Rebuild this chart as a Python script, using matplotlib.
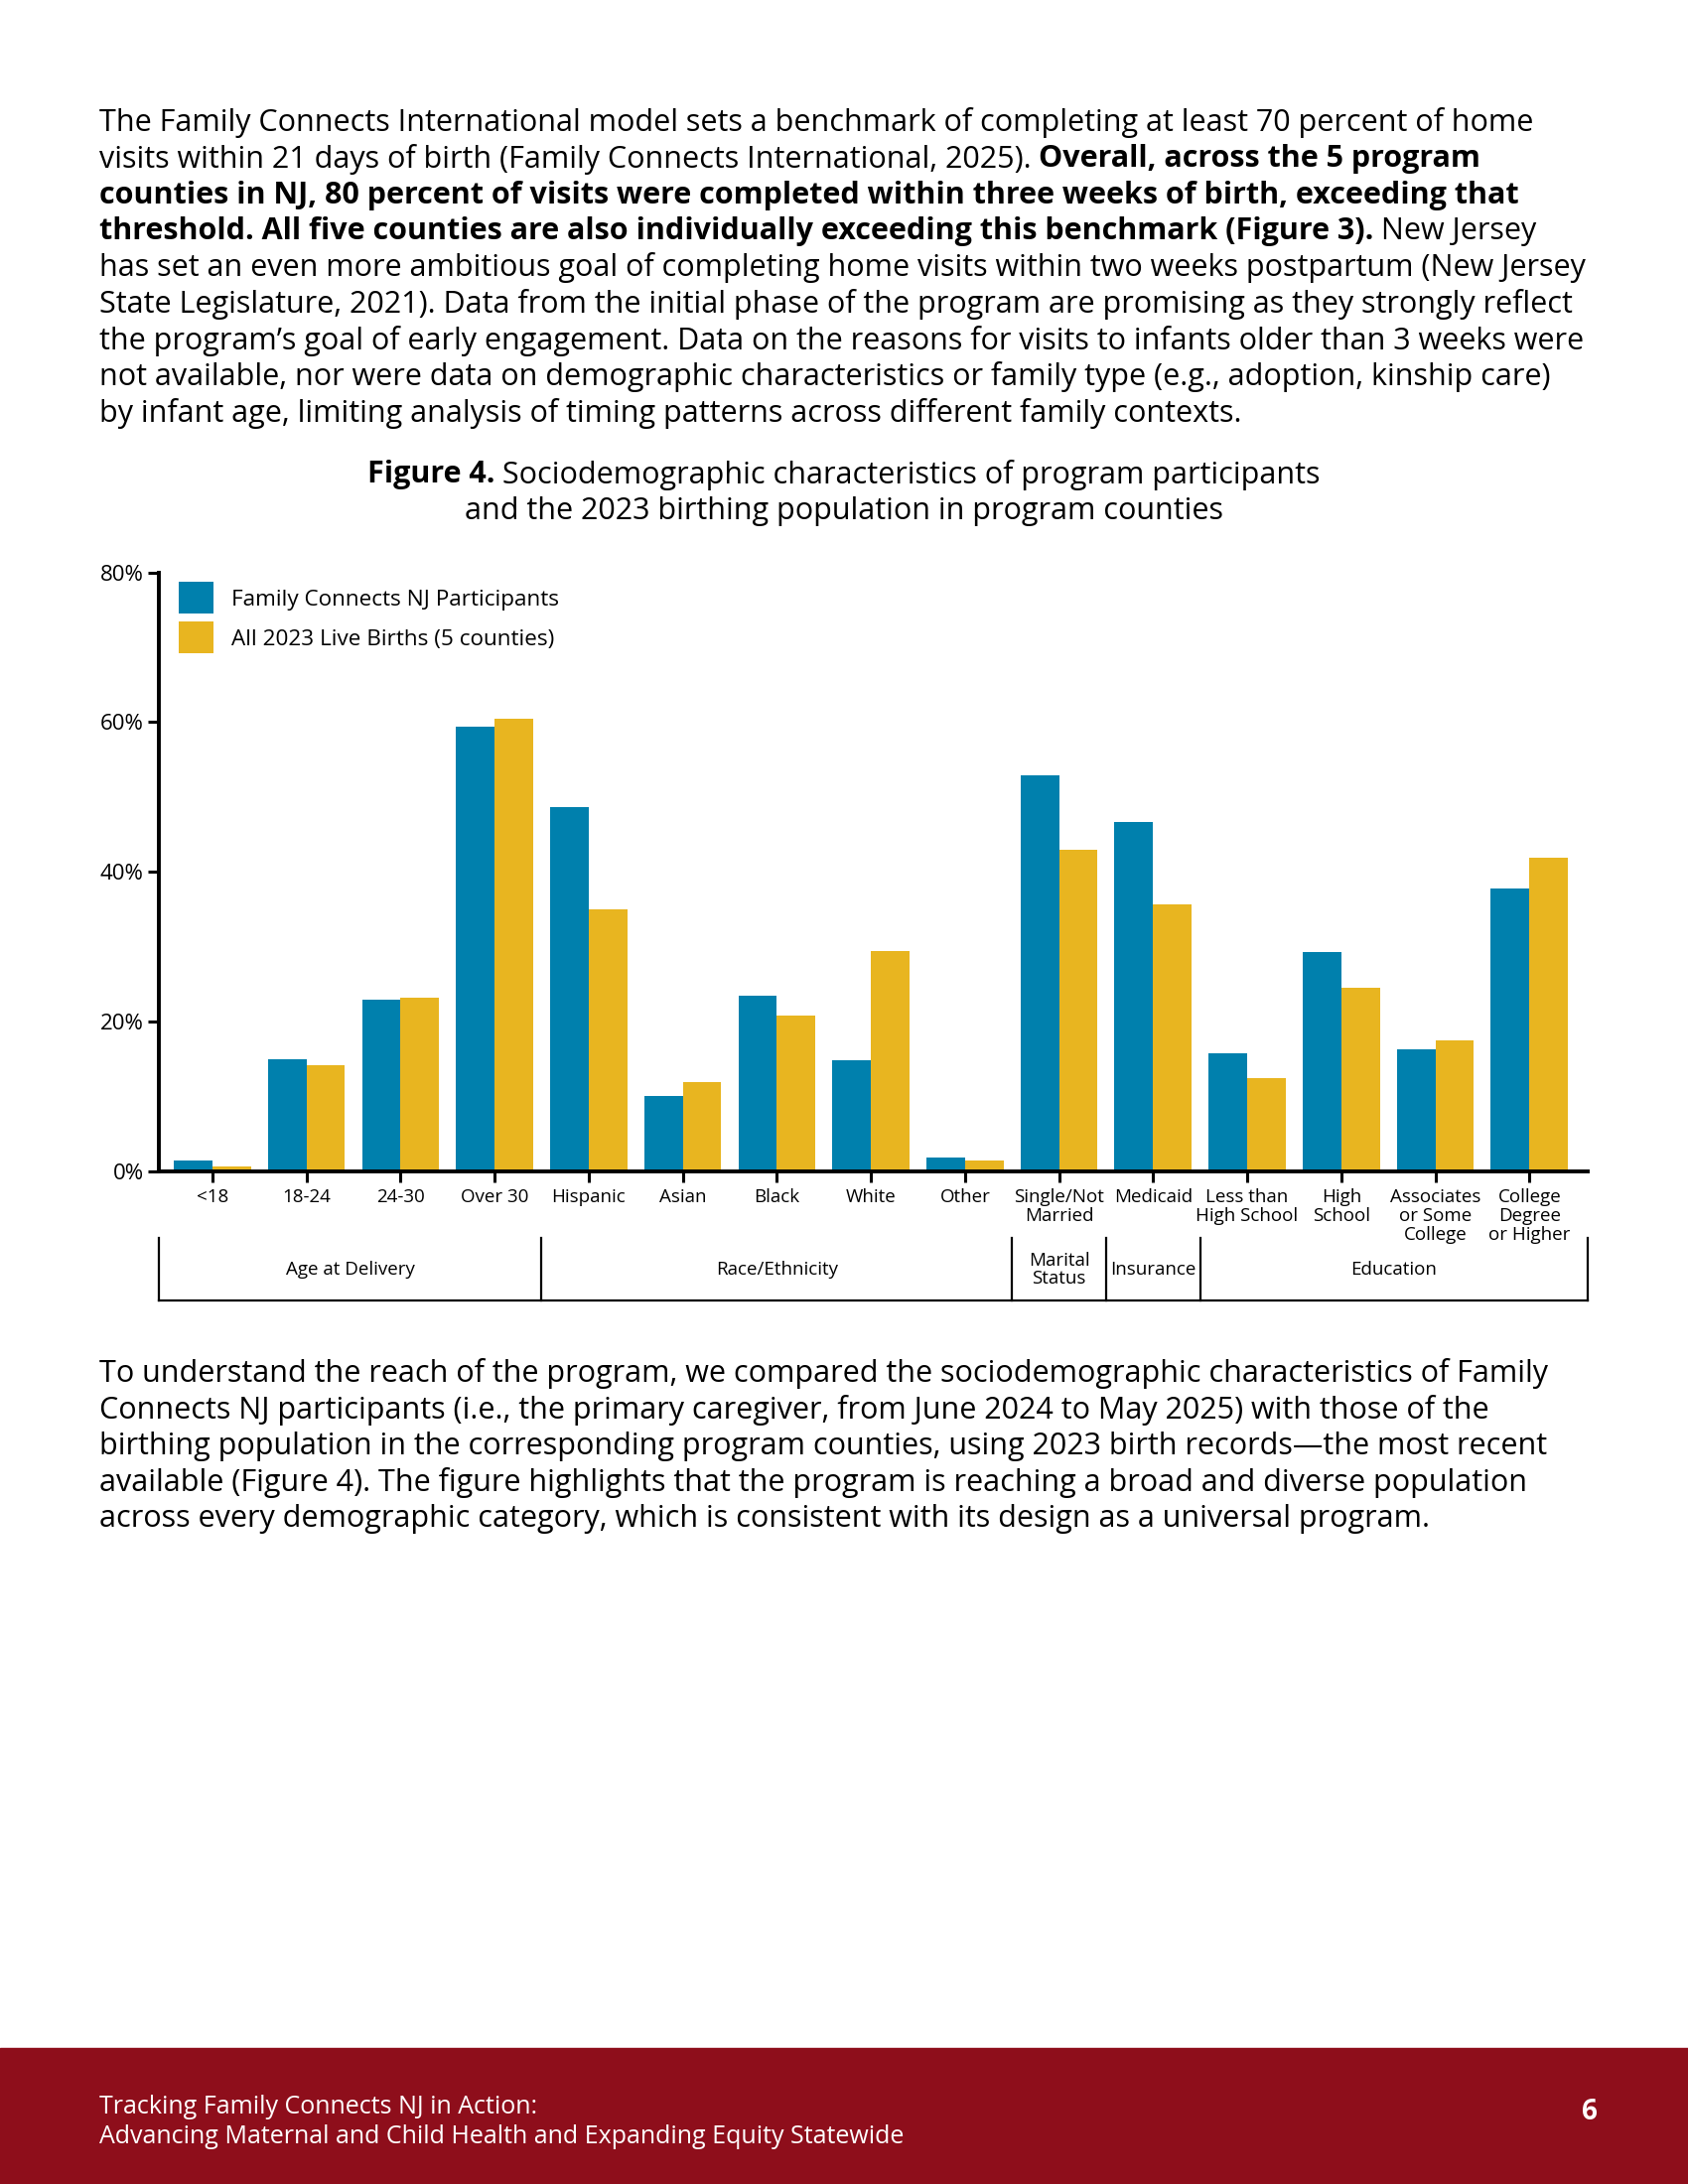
import numpy as np
import matplotlib
matplotlib.use('Agg')
import matplotlib.pyplot as plt

plt.rcParams['font.family'] = ['Open Sans', 'DejaVu Sans']

# data
categories = ['<18', '18-24', '24-30', 'Over 30', 'Hispanic', 'Asian', 'Black', 'White',
              'Other', 'Single/Not\nMarried', 'Medicaid', 'Less than\nHigh School', 'High\nSchool',
              'Associates\nor Some\nCollege', 'College\nDegree\nor Higher']
participants = [1.4, 15.0, 22.9, 59.4, 48.7, 10.1, 23.5, 14.8, 1.8, 52.9, 46.7, 15.8, 29.3, 16.3, 37.8]
live_births = [0.65, 14.2, 23.2, 60.5, 35.0, 11.9, 20.8, 29.5, 1.4, 43.0, 35.7, 12.4, 24.5, 17.5, 41.9]
series_names = ['Family Connects NJ Participants', 'All 2023 Live Births (5 counties)']
groups = ['Age at Delivery', 'Race/Ethnicity', 'Marital\nStatus', 'Insurance', 'Education']
group_sizes = [4, 5, 1, 1, 4]
yticks = [0, 20, 40, 60, 80]

BLUE = '#0080AD'
GOLD = '#E8B520'
RED = '#8E0E1B'

W, H = 1212, 1568  # layout measured on a 1212x1568 copy of the page


def fx(x):
    return x / W


def fy(y):
    return 1 - y / H


fig = plt.figure(figsize=(17, 22), dpi=100)
renderer = fig.canvas.get_renderer()

body_size = 22


def line(x, y, parts, **kw):
    # parts: list of (text, weight) drawn one after another on the same line
    cur = fx(x)
    for txt, wt in parts:
        t = fig.text(cur, fy(y), txt, fontsize=body_size, fontweight=wt, va='center', ha='left', **kw)
        bb = t.get_window_extent(renderer)
        cur = bb.x1 / fig.bbox.width


top_lines = [
    [("The Family Connects International model sets a benchmark of completing at least 70 percent of home", 'normal')],
    [("visits within 21 days of birth (Family Connects International, 2025). ", 'normal'),
     ("Overall, across the 5 program", 'bold')],
    [("counties in NJ, 80 percent of visits were completed within three weeks of birth, exceeding that", 'bold')],
    [("threshold. All five counties are also individually exceeding this benchmark (Figure 3).", 'bold'),
     (" New Jersey", 'normal')],
    [("has set an even more ambitious goal of completing home visits within two weeks postpartum (New Jersey", 'normal')],
    [("State Legislature, 2021). Data from the initial phase of the program are promising as they strongly reflect", 'normal')],
    [("the program\u2019s goal of early engagement. Data on the reasons for visits to infants older than 3 weeks were", 'normal')],
    [("not available, nor were data on demographic characteristics or family type (e.g., adoption, kinship care)", 'normal')],
    [("by infant age, limiting analysis of timing patterns across different family contexts.", 'normal')],
]
for i, parts in enumerate(top_lines):
    line(71, 88 + i * 26.1, parts)

bottom_lines = [
    "To understand the reach of the program, we compared the sociodemographic characteristics of Family",
    "Connects NJ participants (i.e., the primary caregiver, from June 2024 to May 2025) with those of the",
    "birthing population in the corresponding program counties, using 2023 birth records\u2014the most recent",
    "available (Figure 4). The figure highlights that the program is reaching a broad and diverse population",
    "across every demographic category, which is consistent with its design as a universal program.",
]
for i, s in enumerate(bottom_lines):
    line(71, 986 + i * 26.1, [(s, 'normal')])

# figure caption, centred
t1 = fig.text(0, 0, "Figure 4.", fontsize=body_size, fontweight='bold')
t2 = fig.text(0, 0, " Sociodemographic characteristics of program participants", fontsize=body_size)
w1 = t1.get_window_extent(renderer).width / fig.bbox.width
w2 = t2.get_window_extent(renderer).width / fig.bbox.width
x0 = fx(606) - (w1 + w2) / 2
t1.set_position((x0, fy(341)))
t1.set_va('center')
t2.set_position((x0 + w1, fy(341)))
t2.set_va('center')
fig.text(fx(606), fy(367), "and the 2023 birthing population in program counties",
         fontsize=body_size, ha='center', va='center')

# chart
ax = fig.add_axes([fx(114), fy(841), fx(1140) - fx(114), fy(411) - fy(841)])
x = np.arange(len(categories))
bw = 0.41
ax.bar(x - bw / 2, participants, bw, color=BLUE, label=series_names[0])
ax.bar(x + bw / 2, live_births, bw, color=GOLD, label=series_names[1])
ax.set_xlim(-0.57, len(categories) - 1 + 0.62)
ax.set_ylim(0, 80)
ax.set_yticks(yticks)
ax.set_yticklabels([f'{v}%' for v in yticks], fontsize=16)
ax.set_xticks(x)
ax.set_xticklabels(categories, fontsize=13.5, linespacing=1.1)
ax.tick_params(axis='both', length=8, width=2.2, color='black')
ax.tick_params(axis='y', pad=3)
ax.tick_params(axis='x', pad=4)
for s in ['top', 'right']:
    ax.spines[s].set_visible(False)
for s in ['left', 'bottom']:
    ax.spines[s].set_linewidth(2.8)
ax.legend(loc='upper left', bbox_to_anchor=(0.0139, 0.984), frameon=False, fontsize=16.2,
          handlelength=1.57, handleheight=1.81, handletextpad=0.8, labelspacing=0.36,
          borderpad=0, borderaxespad=0)

# group bracket under the tick labels
bx = fig.add_axes([fx(114), fy(934), fx(1140) - fx(114), fy(889) - fy(934)])
bx.set_xlim(ax.get_xlim())
bx.set_ylim(0, 1)
bx.axis('off')
left, right = ax.get_xlim()
edges = [left]
pos = -0.5
for n in group_sizes:
    pos += n
    edges.append(pos)
edges[-1] = right
lw = 1.6
bx.plot([left, right], [0.0, 0.0], color='black', lw=lw, clip_on=False, solid_capstyle='projecting')
for e in edges:
    bx.plot([e, e], [0.0, 1.0], color='black', lw=lw, clip_on=False)
for i, g in enumerate(groups):
    bx.text((edges[i] + edges[i + 1]) / 2, 0.5, g, ha='center', va='center',
            fontsize=13.5, linespacing=0.95)

# footer band
fig.patches.append(plt.Rectangle((0, 0), 1, fy(1470), transform=fig.transFigure,
                                 color=RED, zorder=0))
fig.text(fx(71), fy(1513), "Tracking Family Connects NJ in Action:", color='white',
         fontsize=18, va='center')
fig.text(fx(71), fy(1534), "Advancing Maternal and Child Health and Expanding Equity Statewide",
         color='white', fontsize=18, va='center')
fig.text(fx(1147), fy(1516), "6", color='white', fontsize=20, fontweight='bold',
         va='center', ha='right')

fig.savefig('out.png', dpi=100)
